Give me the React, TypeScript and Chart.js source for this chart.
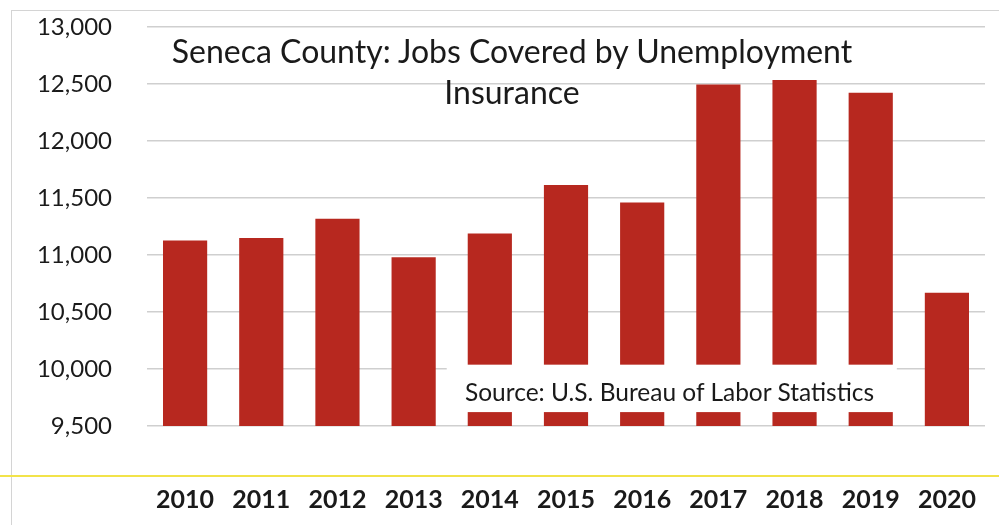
import React, { useEffect, useRef } from "react";
import { Chart, registerables } from "chart.js";

Chart.register(...registerables);

const categories = ["2010", "2011", "2012", "2013", "2014", "2015", "2016", "2017", "2018", "2019", "2020"];
const jobs = [11128, 11149, 11319, 10980, 11189, 11615, 11460, 12496, 12534, 12423, 10669];
const yMin = 9500;
const yMax = 13000;
const yStep = 500;
const titleLines = ["Seneca County: Jobs Covered by Unemployment", "Insurance"];
const sourceText = "Source: U.S. Bureau of Labor Statistics";

const FONT = "Lato, 'Open Sans', sans-serif";
const BAR = "#B7281F";

const sourceBoxPlugin = {
  id: "sourceBox",
  afterDatasetsDraw(chart: any) {
    const { ctx, scales } = chart;
    const x = scales.x;
    const y = scales.y;
    const left = (x.getPixelForValue(3) + x.getPixelForValue(4)) / 2 - 5;
    const right = (x.getPixelForValue(9) + x.getPixelForValue(10)) / 2 - 12;
    const top = y.getPixelForValue(10038);
    const bottom = y.getPixelForValue(9622);
    ctx.save();
    ctx.fillStyle = "#ffffff";
    ctx.fillRect(left, top, right - left, bottom - top);
    ctx.restore();
  },
};

export default function App() {
  const ref = useRef<HTMLCanvasElement | null>(null);

  useEffect(() => {
    document.body.style.margin = "0";
    const canvas = ref.current;
    if (!canvas) return;
    const chart = new Chart(canvas, {
      type: "bar",
      data: {
        labels: categories,
        datasets: [
          {
            data: jobs,
            backgroundColor: BAR,
            borderWidth: 0,
            barPercentage: 0.58,
            categoryPercentage: 1,
          },
        ],
      },
      options: {
        responsive: false,
        animation: false,
        maintainAspectRatio: false,
        layout: { padding: { top: 27, right: 14, bottom: 0, left: 0 } },
        plugins: {
          legend: { display: false },
          tooltip: { enabled: false },
          title: { display: false },
        },
        scales: {
          x: {
            grid: {
              display: true,
              drawOnChartArea: false,
              drawTicks: true,
              tickLength: 59,
              color: "rgba(0,0,0,0)",
              tickColor: "rgba(0,0,0,0)",
            },
            border: { display: false },
            ticks: {
              color: "#1a1a1a",
              padding: 0,
              font: { family: FONT, size: 25, weight: "bold" },
              maxRotation: 0,
              autoSkip: false,
            },
            afterFit(scale: any) {
              scale.height = 99;
            },
          },
          y: {
            min: yMin,
            max: yMax,
            grid: {
              color: "#cfcfcf",
              lineWidth: 1.5,
              drawTicks: true,
              tickLength: 35,
              tickColor: "rgba(0,0,0,0)",
            },
            border: { display: false },
            ticks: {
              stepSize: yStep,
              color: "#1a1a1a",
              padding: 0,
              font: { family: FONT, size: 24 },
              callback: (v: any) => Number(v).toLocaleString("en-US"),
            },
            afterFit(scale: any) {
              scale.width = 147;
            },
          },
        },
      },
      plugins: [sourceBoxPlugin],
    });
    return () => chart.destroy();
  }, []);

  return (
    <div style={{ position: "relative", width: 999, height: 525, background: "#fff", overflow: "hidden" }}>
      <canvas ref={ref} width={999} height={525} style={{ position: "absolute", left: 0, top: 0 }} />
      <div style={{ position: "absolute", left: 11, top: 10, width: 1, height: 515, background: "#d4d4d4" }} />
      <div style={{ position: "absolute", left: 11, top: 10, width: 988, height: 1, background: "#d4d4d4" }} />
      <div style={{ position: "absolute", left: 0, top: 475, width: 999, height: 2, background: "#f2e34a" }} />
      <div
        style={{
          position: "absolute",
          left: 112,
          width: 800,
          top: 30,
          textAlign: "center",
          fontFamily: FONT,
          fontSize: 32,
          lineHeight: "41px",
          color: "#1a1a1a",
        }}
      >
        {titleLines.map((l, i) => (
          <div key={i}>{l}</div>
        ))}
      </div>
      <div
        style={{
          position: "absolute",
          left: 465,
          top: 377,
          fontFamily: FONT,
          fontSize: 24.5,
          lineHeight: "30px",
          color: "#1a1a1a",
          whiteSpace: "nowrap",
        }}
      >
        {sourceText}
      </div>
    </div>
  );
}
